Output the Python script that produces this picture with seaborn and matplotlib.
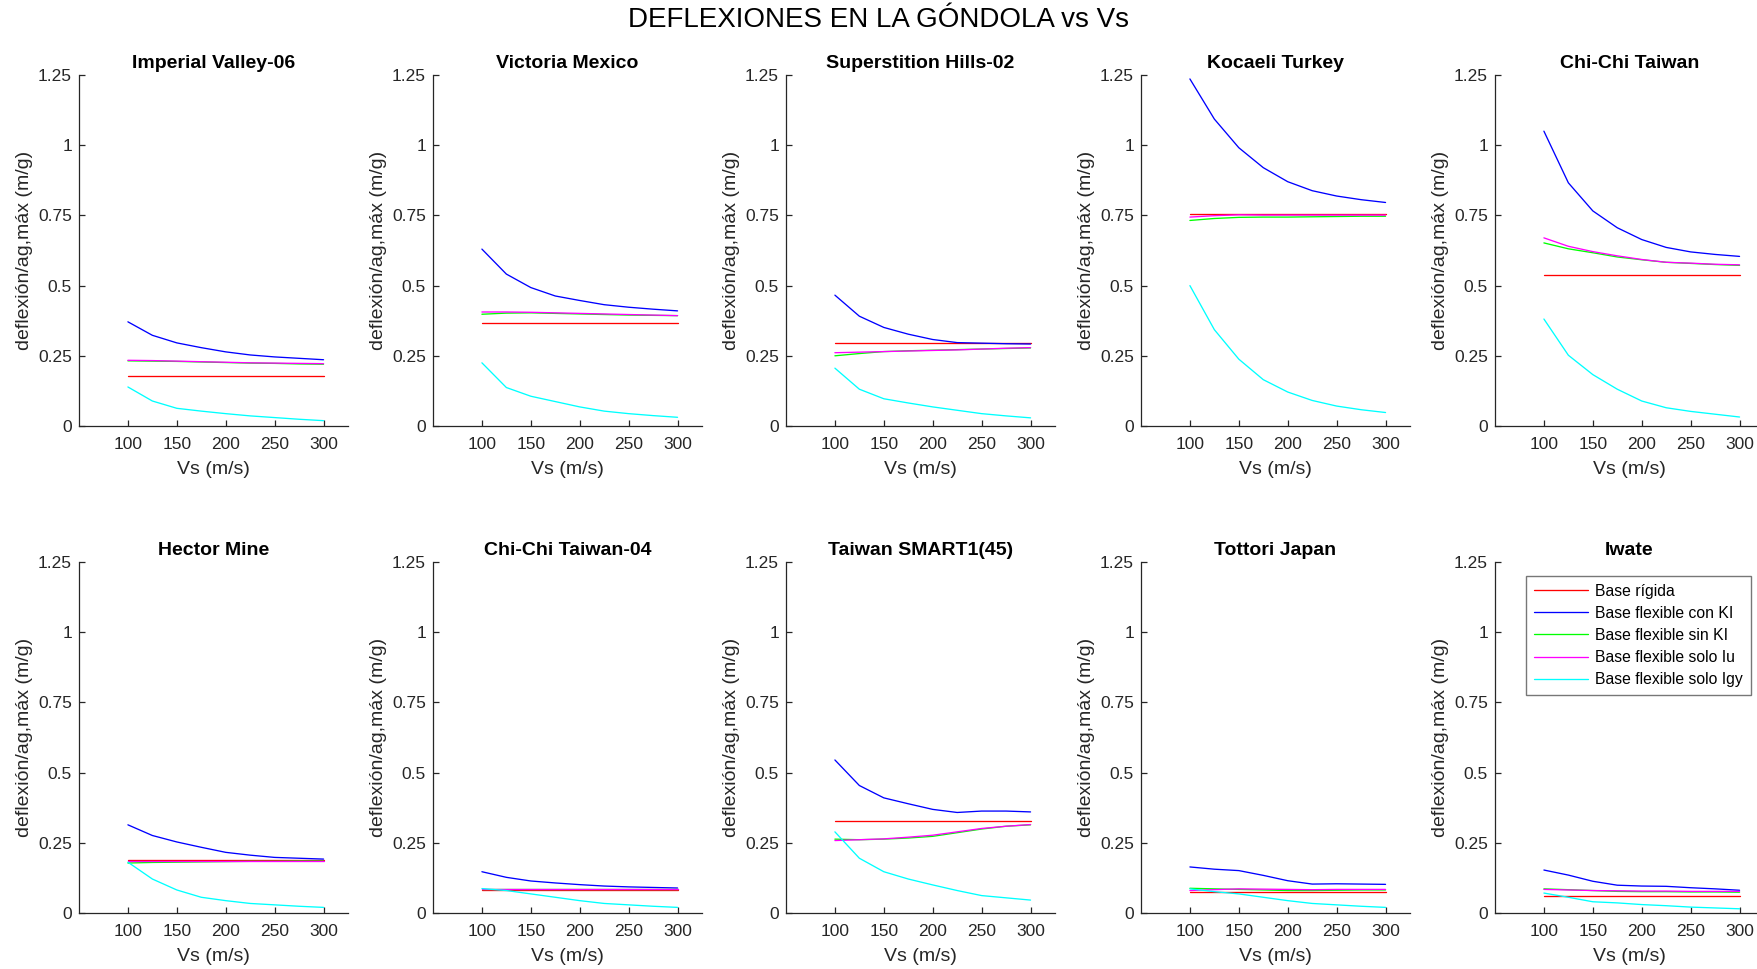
import numpy as np
import pandas as pd
import matplotlib
matplotlib.use("Agg")
import matplotlib.pyplot as plt
import seaborn as sns

# ---------------- data ----------------
vs = [100, 125, 150, 175, 200, 225, 250, 275, 300]

series_names = ["Base rígida", "Base flexible con KI", "Base flexible sin KI",
                "Base flexible solo Iu", "Base flexible solo Igy"]
series_colors = ["#ff0000", "#0000ff", "#00ff00", "#ff00ff", "#00ffff"]

titles = ["Imperial Valley-06", "Victoria Mexico", "Superstition Hills-02",
          "Kocaeli Turkey", "Chi-Chi Taiwan", "Hector Mine", "Chi-Chi Taiwan-04",
          "Taiwan SMART1(45)", "Tottori Japan", "Iwate"]

imperial_valley = [
    [0.179] * 9,
    [0.371, 0.323, 0.296, 0.279, 0.264, 0.253, 0.246, 0.241, 0.236],
    [0.232, 0.231, 0.230, 0.228, 0.226, 0.224, 0.223, 0.221, 0.220],
    [0.234, 0.233, 0.231, 0.229, 0.227, 0.225, 0.224, 0.223, 0.222],
    [0.139, 0.089, 0.063, 0.053, 0.044, 0.036, 0.030, 0.024, 0.019],
]
victoria_mexico = [
    [0.366] * 9,
    [0.630, 0.541, 0.493, 0.463, 0.447, 0.432, 0.423, 0.416, 0.410],
    [0.398, 0.402, 0.403, 0.401, 0.399, 0.397, 0.395, 0.394, 0.393],
    [0.406, 0.406, 0.405, 0.403, 0.401, 0.399, 0.397, 0.395, 0.393],
    [0.225, 0.137, 0.106, 0.087, 0.068, 0.053, 0.044, 0.037, 0.031],
]
superstition_hills = [
    [0.296] * 9,
    [0.466, 0.391, 0.351, 0.327, 0.308, 0.297, 0.295, 0.293, 0.292],
    [0.250, 0.258, 0.265, 0.268, 0.270, 0.272, 0.274, 0.276, 0.278],
    [0.261, 0.263, 0.265, 0.267, 0.269, 0.271, 0.274, 0.277, 0.279],
    [0.206, 0.131, 0.097, 0.082, 0.068, 0.056, 0.044, 0.036, 0.029],
]
kocaeli = [
    [0.756] * 9,
    [1.236, 1.093, 0.991, 0.920, 0.870, 0.838, 0.819, 0.806, 0.796],
    [0.732, 0.739, 0.743, 0.744, 0.744, 0.745, 0.746, 0.747, 0.747],
    [0.744, 0.749, 0.752, 0.751, 0.751, 0.751, 0.751, 0.751, 0.751],
    [0.500, 0.343, 0.238, 0.165, 0.121, 0.091, 0.071, 0.058, 0.048],
]
chichi_taiwan = [
    [0.539] * 9,
    [1.050, 0.866, 0.766, 0.706, 0.664, 0.636, 0.620, 0.611, 0.604],
    [0.652, 0.631, 0.617, 0.602, 0.592, 0.583, 0.579, 0.575, 0.572],
    [0.670, 0.640, 0.621, 0.606, 0.593, 0.583, 0.580, 0.576, 0.574],
    [0.381, 0.252, 0.183, 0.131, 0.089, 0.065, 0.052, 0.042, 0.032],
]
hector_mine = [
    [0.190] * 9,
    [0.314, 0.276, 0.253, 0.234, 0.216, 0.206, 0.198, 0.195, 0.192],
    [0.178, 0.180, 0.181, 0.182, 0.183, 0.184, 0.184, 0.185, 0.185],
    [0.184, 0.184, 0.184, 0.184, 0.184, 0.184, 0.184, 0.184, 0.184],
    [0.181, 0.121, 0.082, 0.056, 0.044, 0.034, 0.029, 0.024, 0.020],
]
chichi_taiwan_04 = [
    [0.082] * 9,
    [0.147, 0.127, 0.114, 0.107, 0.101, 0.096, 0.093, 0.091, 0.089],
    [0.086, 0.086, 0.086, 0.086, 0.086, 0.086, 0.086, 0.086, 0.086],
    [0.084, 0.084, 0.084, 0.084, 0.084, 0.084, 0.084, 0.084, 0.084],
    [0.087, 0.080, 0.068, 0.056, 0.044, 0.034, 0.029, 0.024, 0.020],
]
taiwan_smart1 = [
    [0.328] * 9,
    [0.545, 0.454, 0.410, 0.389, 0.369, 0.358, 0.363, 0.363, 0.360],
    [0.263, 0.261, 0.263, 0.267, 0.273, 0.286, 0.299, 0.309, 0.314],
    [0.258, 0.261, 0.264, 0.270, 0.277, 0.289, 0.301, 0.309, 0.315],
    [0.289, 0.195, 0.147, 0.121, 0.100, 0.080, 0.062, 0.054, 0.046],
]
tottori_japan = [
    [0.074] * 9,
    [0.164, 0.156, 0.151, 0.134, 0.115, 0.103, 0.104, 0.103, 0.102],
    [0.088, 0.086, 0.084, 0.082, 0.080, 0.080, 0.081, 0.082, 0.082],
    [0.080, 0.083, 0.086, 0.085, 0.084, 0.083, 0.084, 0.084, 0.084],
    [0.086, 0.076, 0.068, 0.056, 0.044, 0.034, 0.029, 0.024, 0.020],
]
iwate = [
    [0.061] * 9,
    [0.153, 0.135, 0.113, 0.099, 0.096, 0.095, 0.090, 0.086, 0.081],
    [0.086, 0.083, 0.080, 0.077, 0.076, 0.076, 0.075, 0.075, 0.074],
    [0.084, 0.082, 0.080, 0.079, 0.078, 0.078, 0.077, 0.077, 0.077],
    [0.071, 0.056, 0.040, 0.036, 0.030, 0.026, 0.021, 0.018, 0.015],
]

panels = [imperial_valley, victoria_mexico, superstition_hills, kocaeli,
          chichi_taiwan, hector_mine, chichi_taiwan_04, taiwan_smart1,
          tottori_japan, iwate]

y_ticks = [0, 0.25, 0.5, 0.75, 1, 1.25]
y_ticklabels = ["0", "0.25", "0.5", "0.75", "1", "1.25"]
x_ticks = [100, 150, 200, 250, 300]

# ---------------- style ----------------
sns.set_theme(style="white")
plt.rcParams["font.family"] = ["Liberation Sans", "DejaVu Sans"]
axc = "#262626"
plt.rcParams.update({
    "axes.edgecolor": axc, "xtick.color": axc, "ytick.color": axc,
    "axes.labelcolor": axc, "text.color": "black",
    "xtick.direction": "in", "ytick.direction": "in",
    "xtick.bottom": True, "ytick.left": True,
})

W, H = 1758, 969
fig = plt.figure(figsize=(W / 100, H / 100), dpi=100)
fig.patch.set_facecolor("white")

col_left = [79, 433, 786, 1141, 1495]
row_top = [75, 562]
ax_w, ax_h = 269, 351

for i, (title, panel) in enumerate(zip(titles, panels)):
    r, c = divmod(i, 5)
    left = col_left[c] / W
    bottom = 1 - (row_top[r] + ax_h) / H
    ax = fig.add_axes([left, bottom, ax_w / W, ax_h / H])
    for name, color, vals in zip(series_names, series_colors, panel):
        df = pd.DataFrame({"Vs": vs, "val": vals})
        sns.lineplot(data=df, x="Vs", y="val", ax=ax, color=color,
                     linewidth=0.95, label=name, legend=False)
    ax.set_xlim(50, 325)
    ax.set_ylim(0, 1.25)
    ax.set_xticks(x_ticks)
    ax.set_yticks(y_ticks)
    ax.set_yticklabels(y_ticklabels)
    ax.tick_params(axis="both", which="major", bottom=True, left=True,
                   labelsize=12.5, length=4.5, width=0.9, direction="in")
    ax.tick_params(axis="x", pad=8)
    ax.tick_params(axis="y", pad=5)
    for s in ["top", "right"]:
        ax.spines[s].set_visible(False)
    for s in ["left", "bottom"]:
        ax.spines[s].set_linewidth(0.9)
    ax.set_xlabel("Vs (m/s)", fontsize=14, labelpad=6.5)
    ax.set_ylabel("deflexión/ag,máx (m/g)", fontsize=14, labelpad=3.5)
    ax.set_title(title, fontsize=14, fontweight="bold", pad=5)
    if i == 9:
        leg = ax.legend(loc="upper right",
                        bbox_to_anchor=(1751 / W, 1 - 576 / H),
                        bbox_transform=fig.transFigure,
                        fontsize=11.3, frameon=True, fancybox=False,
                        handlelength=3.4, borderaxespad=0.0,
                        borderpad=0.5,
                        labelspacing=0.45, handletextpad=0.5)
        leg.get_frame().set_edgecolor("#555555")
        leg.get_frame().set_linewidth(1.0)

fig.suptitle("DEFLEXIONES EN LA GÓNDOLA vs Vs", fontsize=20, y=1 - 20 / H,
             va="center")

fig.savefig("out.png", dpi=100, facecolor="white")
